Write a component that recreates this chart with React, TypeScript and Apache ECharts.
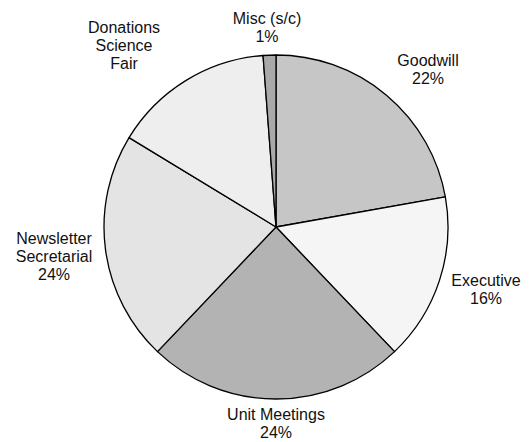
import React, { useEffect, useRef } from "react";
import * as echarts from "echarts";

const categories = [
  "Goodwill",
  "Executive",
  "Unit Meetings",
  "Newsletter\nSecretarial",
  "Donations\nScience\nFair",
  "Misc (s/c)",
];
const values = [22.2, 15.7, 24.2, 21.6, 15.1, 1.2];
const percentLabels = ["22%", "16%", "24%", "24%", "", "1%"];

const fills = ["#c6c6c6", "#f5f5f5", "#b3b3b3", "#e4e4e4", "#eeeeee", "#a9a9a9"];
// label centre positions (layout only)
const labelAnchors: [number, number][] = [
  [428, 69],
  [486, 289],
  [276, 423],
  [54, 256],
  [124, 45],
  [267, 27],
];

export default function App() {
  const ref = useRef<HTMLDivElement>(null);
  useEffect(() => {
    document.body.style.margin = "0";
    const chart = echarts.init(ref.current!, null, { renderer: "svg" });
    chart.setOption({
      animation: false,
      backgroundColor: "#ffffff",
      series: [
        {
          type: "pie",
          center: [276, 227],
          radius: 172,
          startAngle: 90,
          clockwise: true,
          avoidLabelOverlap: false,
          silent: true,
          data: categories.map((c, i) => ({
            name: c,
            value: values[i],
            itemStyle: { color: fills[i] },
          })),
          itemStyle: { borderColor: "#000000", borderWidth: 1.3 },
          label: {
            show: true,
            position: "outside",
            color: "#111111",
            fontFamily: "'Liberation Sans', Arial, sans-serif",
            fontSize: 16,
            lineHeight: 18,
            align: "center",
            formatter: (p: any) =>
              percentLabels[p.dataIndex]
                ? `${p.name}\n${percentLabels[p.dataIndex]}`
                : p.name,
          },
          labelLine: { show: false },
          labelLayout: (p: any) => ({
            x: labelAnchors[p.dataIndex][0],
            y: labelAnchors[p.dataIndex][1],
            align: "center",
            verticalAlign: "middle",
          }),
        },
      ],
    });
    return () => chart.dispose();
  }, []);
  return (
    <div
      ref={ref}
      style={{ position: "absolute", left: 0, top: 0, width: 530, height: 442 }}
    />
  );
}
